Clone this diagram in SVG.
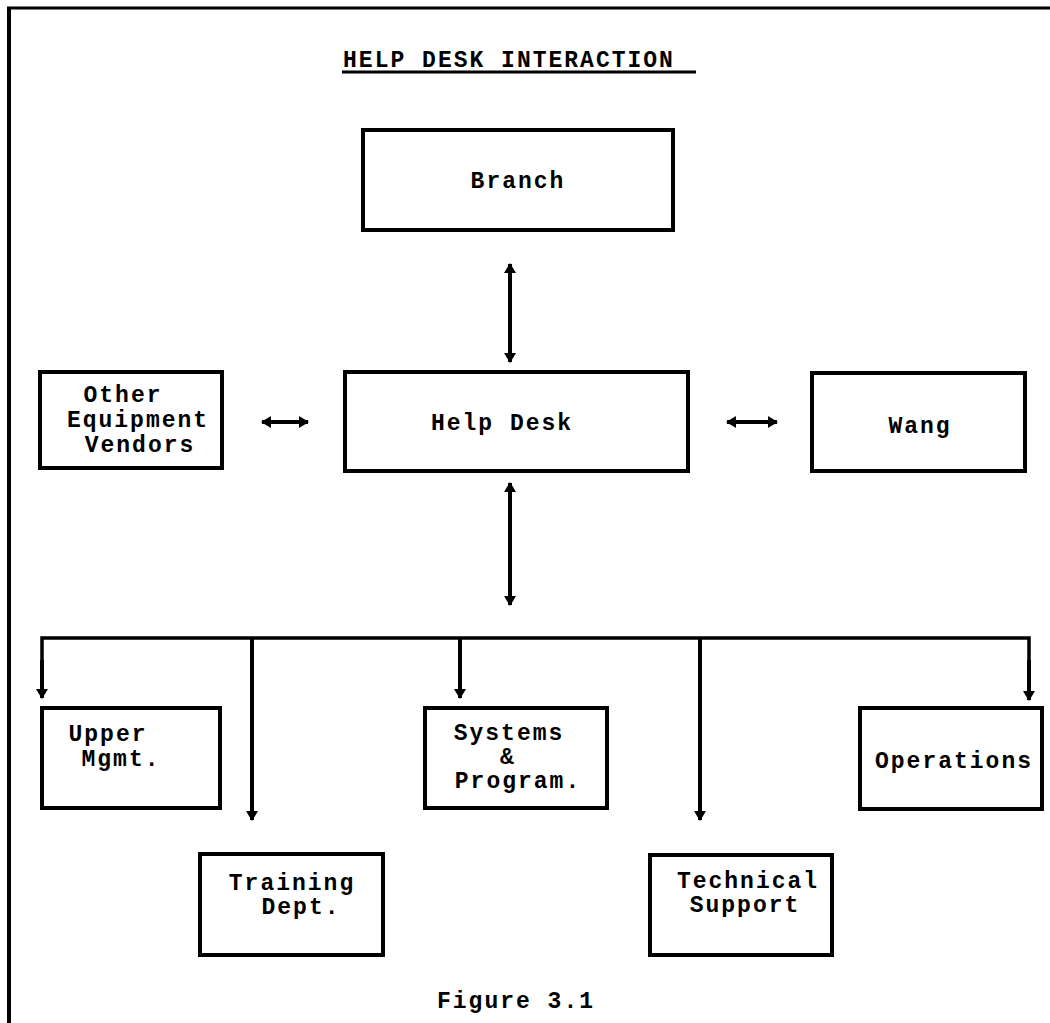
<svg xmlns="http://www.w3.org/2000/svg" width="1050" height="1023" viewBox="0 0 1050 1023">
<style>
.box{fill:#fff;stroke:#000;stroke-width:4}
.t{font-family:"Liberation Mono","Courier New",monospace;font-weight:bold;font-size:23px;letter-spacing:2px;fill:#000;text-anchor:middle}
.c{stroke:#000;stroke-width:4;fill:none}
.bus{stroke:#000;stroke-width:3.5;fill:none}
</style>
<defs>
<marker id="ah" viewBox="0 0 10 12" refX="9" refY="6" markerWidth="10" markerHeight="12" orient="auto-start-reverse" markerUnits="userSpaceOnUse">
<path d="M0,0 L10,6 L0,12 Z" fill="#000"/>
</marker>
</defs>
<rect width="1050" height="1023" fill="#fff"/>
<g id="frame">
<line x1="9" y1="8" x2="9" y2="1023" stroke="#000" stroke-width="4"/>
<line x1="7" y1="8" x2="1050" y2="8" stroke="#000" stroke-width="3"/>
</g>
<g id="title">
<text class="t" x="509" y="67">HELP DESK INTERACTION</text>
<line x1="342" y1="72" x2="696" y2="72" stroke="#000" stroke-width="3"/>
</g>
<g id="connectors">
<line class="c" x1="510" y1="264" x2="510" y2="362" marker-start="url(#ah)" marker-end="url(#ah)"/>
<line class="c" x1="262" y1="422" x2="308" y2="422" marker-start="url(#ah)" marker-end="url(#ah)"/>
<line class="c" x1="727" y1="422" x2="777" y2="422" marker-start="url(#ah)" marker-end="url(#ah)"/>
<line class="c" x1="510" y1="483" x2="510" y2="605" marker-start="url(#ah)" marker-end="url(#ah)"/>
<polyline class="bus" points="42,698 42,638 1029,638 1029,700"/>
<line class="c" x1="42" y1="660" x2="42" y2="698" marker-end="url(#ah)"/>
<line class="c" x1="1029" y1="660" x2="1029" y2="700" marker-end="url(#ah)"/>
<line class="c" x1="252" y1="638" x2="252" y2="820" marker-end="url(#ah)"/>
<line class="c" x1="460" y1="638" x2="460" y2="698" marker-end="url(#ah)"/>
<line class="c" x1="700" y1="638" x2="700" y2="820" marker-end="url(#ah)"/>
</g>
<g id="branch">
<rect class="box" x="363" y="130" width="310" height="100"/>
<text class="t" x="518" y="188">Branch</text>
</g>
<g id="helpdesk">
<rect class="box" x="345" y="372" width="343" height="99"/>
<text class="t" x="502" y="430">Help Desk</text>
</g>
<g id="vendors">
<rect class="box" x="40" y="372" width="182" height="96"/>
<text class="t" x="123" y="402">Other</text>
<text class="t" x="138" y="427">Equipment</text>
<text class="t" x="140" y="452">Vendors</text>
</g>
<g id="wang">
<rect class="box" x="812" y="373" width="213" height="98"/>
<text class="t" x="920" y="433">Wang</text>
</g>
<g id="upper">
<rect class="box" x="42" y="708" width="178" height="100"/>
<text class="t" x="108" y="741">Upper</text>
<text class="t" x="121" y="766">Mgmt.</text>
</g>
<g id="systems">
<rect class="box" x="425" y="708" width="182" height="100"/>
<text class="t" x="509" y="740">Systems</text>
<text class="t" x="508" y="764">&amp;</text>
<text class="t" x="518" y="788">Program.</text>
</g>
<g id="operations">
<rect class="box" x="860" y="708" width="182" height="101"/>
<text class="t" x="954" y="768">Operations</text>
</g>
<g id="training">
<rect class="box" x="200" y="854" width="183" height="101"/>
<text class="t" x="292" y="890">Training</text>
<text class="t" x="301" y="914">Dept.</text>
</g>
<g id="techsupport">
<rect class="box" x="650" y="855" width="182" height="100"/>
<text class="t" x="748" y="888">Technical</text>
<text class="t" x="745" y="912">Support</text>
</g>
<g id="caption">
<text class="t" x="516" y="1008">Figure 3.1</text>
</g>
</svg>
